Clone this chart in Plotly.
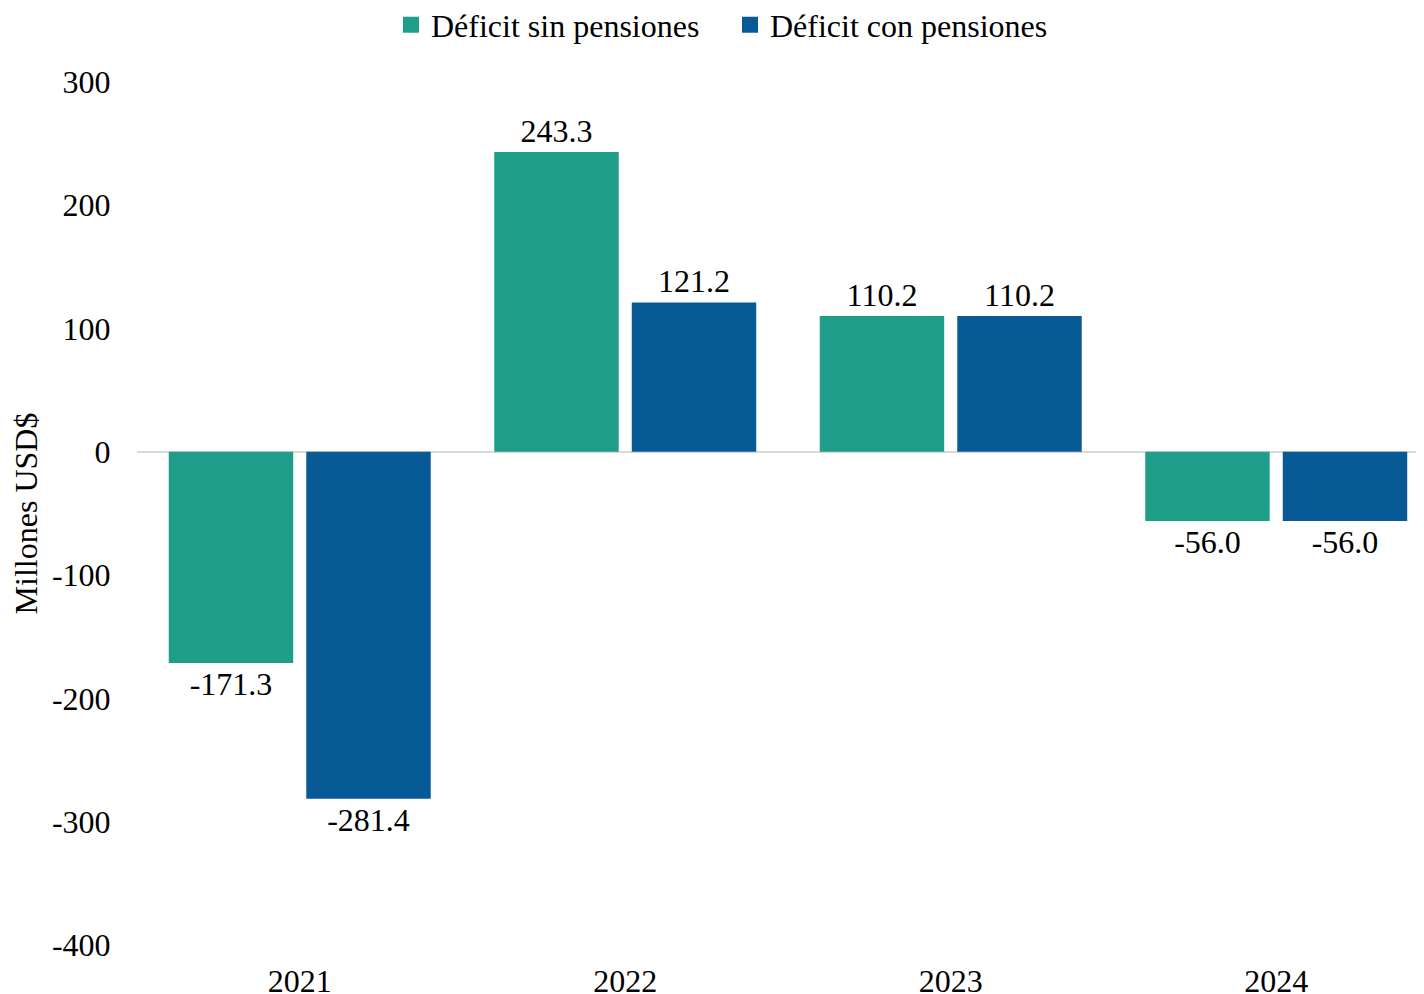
import plotly.graph_objects as go

years = ["2021", "2022", "2023", "2024"]
sin_pensiones = [-171.3, 243.3, 110.2, -56.0]
con_pensiones = [-281.4, 121.2, 110.2, -56.0]
series_names = ["Déficit sin pensiones", "Déficit con pensiones"]
y_ticks = [300, 200, 100, 0, -100, -200, -300, -400]
y_tick_text = ["300", "200", "100", "0", "-100", "-200", "-300", "-400"]

FONT = "Liberation Serif, Times New Roman, serif"
FS = 32
GREEN = "#1e9e89"
BLUE = "#085a97"
W, H = 1416, 986  # page body adds an 8px offset
ML, MT, MB = 129, 74, 49
PW, PH = W - ML, H - MT - MB

fig = go.Figure()
series = [(series_names[0], sin_pensiones, GREEN),
          (series_names[1], con_pensiones, BLUE)]
for name, vals, col in series:
    fig.add_trace(go.Bar(
        x=years, y=vals, name=name, marker_color=col, marker_line_width=0,
        text=[f"{v:.1f}" for v in vals], textposition="outside",
        textfont=dict(family=FONT, size=FS, color="black"),
        constraintext="none", cliponaxis=False, showlegend=False,
    ))
# legend entries with larger square symbols
for name, col in [(series_names[0], GREEN), (series_names[1], BLUE)]:
    fig.add_trace(go.Scatter(
        x=[None], y=[None], mode="markers", name=name,
        marker=dict(symbol="square", size=16, color=col),
        showlegend=True,
    ))

fig.update_layout(
    width=W, height=H,
    margin=dict(l=ML, r=0, t=MT, b=MB, autoexpand=False),
    paper_bgcolor="white", plot_bgcolor="white",
    font=dict(family=FONT, size=FS, color="black"),
    barmode="group", bargap=0.155, bargroupgap=0.095,
    uniformtext=dict(minsize=FS, mode="show"),
    showlegend=True,
    legend=dict(orientation="h", x=(383 - ML) / PW, xanchor="left",
                y=1 + (MT - 17) / PH, yanchor="middle",
                font=dict(family=FONT, size=FS), itemwidth=30, traceorder="normal",
                tracegroupgap=0, entrywidth=294, entrywidthmode="pixels"),
)
fig.update_xaxes(type="category", range=[-0.5, 3.454], showgrid=False, showline=False,
                 ticks="outside", ticklen=8, tickcolor="rgba(0,0,0,0)",
                 tickfont=dict(family=FONT, size=FS), zeroline=False, automargin=False)
fig.update_yaxes(range=[-400, 300], tickvals=y_ticks, ticktext=y_tick_text,
                 showgrid=False, showline=False,
                 zeroline=True, zerolinecolor="#d9d9d9", zerolinewidth=2,
                 ticks="outside", ticklen=19, tickcolor="rgba(0,0,0,0)",
                 tickfont=dict(family=FONT, size=FS), automargin=False,
                 title=dict(text="Millones USD$", font=dict(family=FONT, size=FS), standoff=10))
fig.write_html("out.html")
